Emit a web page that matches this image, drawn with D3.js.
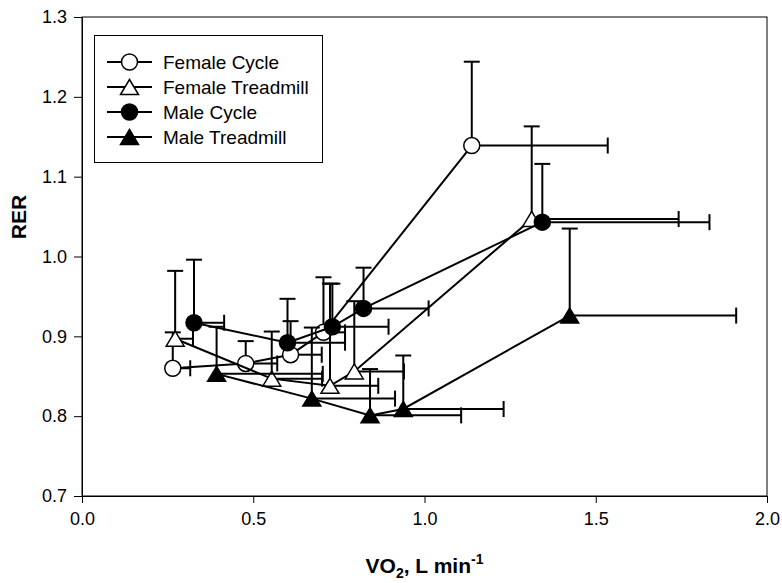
<!DOCTYPE html>
<html>
<head>
<meta charset="utf-8">
<script src="https://cdn.jsdelivr.net/npm/d3@7"></script>
<style>
  html, body { margin: 0; padding: 0; background: #fff; }
  svg { display: block; font-family: Arial, "Liberation Sans", sans-serif; }
</style>
</head>
<body>
<svg id="chart" width="782" height="583"></svg>
<script>
// Mean VO2 (L/min) and RER per stage, with SD bars (drawn upward / rightward)
const seriesNames = ["Female Cycle", "Female Treadmill", "Male Cycle", "Male Treadmill"];
const seriesSymbols = ["circle", "triangle", "circle", "triangle"];
const seriesFilled = [false, false, true, true];

const femaleCycleVO2 = [0.265, 0.478, 0.609, 0.705, 1.138];
const femaleCycleRER = [0.860, 0.866, 0.877, 0.905, 1.139];
const femaleCycleVO2SD = [0.051, 0.092, 0.091, 0.063, 0.397];
const femaleCycleRERSD = [0.045, 0.028, 0.042, 0.069, 0.105];

const femaleTreadVO2 = [0.272, 0.554, 0.724, 0.795, 1.313];
const femaleTreadRER = [0.897, 0.847, 0.838, 0.856, 1.047];
const femaleTreadVO2SD = [0.052, 0.147, 0.141, 0.145, 0.429];
const femaleTreadRERSD = [0.085, 0.059, 0.128, 0.088, 0.116];

const maleCycleVO2 = [0.327, 0.600, 0.731, 0.822, 1.344];
const maleCycleRER = [0.917, 0.892, 0.912, 0.935, 1.043];
const maleCycleVO2SD = [0.088, 0.168, 0.164, 0.190, 0.488];
const maleCycleRERSD = [0.079, 0.055, 0.054, 0.051, 0.073];

const maleTreadVO2 = [0.393, 0.671, 0.841, 0.938, 1.424];
const maleTreadRER = [0.853, 0.822, 0.801, 0.809, 0.926];
const maleTreadVO2SD = [0.310, 0.243, 0.266, 0.293, 0.486];
const maleTreadRERSD = [0.059, 0.089, 0.058, 0.067, 0.109];

const xTicks = [0.0, 0.5, 1.0, 1.5, 2.0];
const yTicks = [0.7, 0.8, 0.9, 1.0, 1.1, 1.2, 1.3];

const seriesData = [
  [femaleCycleVO2, femaleCycleRER, femaleCycleVO2SD, femaleCycleRERSD],
  [femaleTreadVO2, femaleTreadRER, femaleTreadVO2SD, femaleTreadRERSD],
  [maleCycleVO2, maleCycleRER, maleCycleVO2SD, maleCycleRERSD],
  [maleTreadVO2, maleTreadRER, maleTreadVO2SD, maleTreadRERSD]
].map(([xs, ys, xe, ye], i) => ({
  name: seriesNames[i],
  symbol: seriesSymbols[i],
  filled: seriesFilled[i],
  points: xs.map((x, j) => ({ x, y: ys[j], xe: xe[j], ye: ye[j] }))
}));

const svg = d3.select("#chart");
const W = 782, H = 583;
const margin = { left: 82, top: 17, right: 15, bottom: 87 };
const iw = W - margin.left - margin.right;
const ih = H - margin.top - margin.bottom;

const x = d3.scaleLinear().domain([0, 2]).range([margin.left, margin.left + iw]);
const y = d3.scaleLinear().domain([0.7, 1.3]).range([margin.top + ih, margin.top]);

// Frame (top and right edges)
svg.append("rect")
  .attr("x", margin.left).attr("y", margin.top)
  .attr("width", iw).attr("height", ih)
  .attr("fill", "none").attr("stroke", "#000").attr("stroke-width", 1);

// Axes
const xAxis = d3.axisBottom(x).tickValues(xTicks).tickFormat(d3.format(".1f"))
  .tickSizeOuter(0).tickSizeInner(7).tickPadding(9);
const yAxis = d3.axisLeft(y).tickValues(yTicks).tickFormat(d3.format(".1f"))
  .tickSizeOuter(0).tickSizeInner(8).tickPadding(7);

const gx = svg.append("g").attr("transform", `translate(0,${margin.top + ih})`).call(xAxis);
const gy = svg.append("g").attr("transform", `translate(${margin.left},0)`).call(yAxis);
[gx, gy].forEach(g => {
  g.selectAll("path").attr("stroke", "#000").attr("stroke-width", 1);
  g.selectAll("line").attr("stroke", "#000").attr("stroke-width", 1);
  g.selectAll("text").attr("fill", "#000").attr("font-size", 18)
    .attr("font-family", "Arial, 'Liberation Sans', sans-serif");
});

// Axis titles
svg.append("text")
  .attr("transform", `translate(26,217) rotate(-90)`)
  .attr("text-anchor", "middle")
  .attr("font-weight", "bold").attr("font-size", 21)
  .text("RER");

const xt = svg.append("text")
  .attr("x", x(1.0)).attr("y", 573)
  .attr("text-anchor", "middle")
  .attr("font-weight", "bold").attr("font-size", 21);
xt.append("tspan").text("VO");
xt.append("tspan").attr("font-size", 14).attr("dy", 5).text("2");
xt.append("tspan").attr("dy", -5).text(", L min");
xt.append("tspan").attr("font-size", 14).attr("dy", -9).text("-1");

// Marker shapes
const triW = 18, triH = 15;
function drawMarker(g, sym, filled, cx, cy) {
  if (sym === "circle") {
    g.append("circle").attr("cx", cx).attr("cy", cy).attr("r", 8)
      .attr("fill", filled ? "#000" : "#fff").attr("stroke", "#000").attr("stroke-width", 1.5);
  } else {
    const p = d3.path();
    p.moveTo(cx, cy - triH / 2);
    p.lineTo(cx + triW / 2, cy + triH / 2);
    p.lineTo(cx - triW / 2, cy + triH / 2);
    p.closePath();
    g.append("path").attr("d", p.toString())
      .attr("fill", filled ? "#000" : "#fff").attr("stroke", "#000").attr("stroke-width", 1.5)
      .attr("stroke-linejoin", "miter");
  }
}

const line = d3.line().x(d => x(d.x)).y(d => y(d.y));
const cap = 8;

seriesData.forEach(s => {
  const g = svg.append("g");
  // error bars (upper and right halves)
  s.points.forEach(d => {
    const cx = x(d.x), cy = y(d.y);
    const ty = y(d.y + d.ye), rx = x(d.x + d.xe);
    g.append("line").attr("x1", cx).attr("x2", cx).attr("y1", cy).attr("y2", ty)
      .attr("stroke", "#000").attr("stroke-width", 2);
    g.append("line").attr("x1", cx - cap).attr("x2", cx + cap).attr("y1", ty).attr("y2", ty)
      .attr("stroke", "#000").attr("stroke-width", 2);
    g.append("line").attr("x1", cx).attr("x2", rx).attr("y1", cy).attr("y2", cy)
      .attr("stroke", "#000").attr("stroke-width", 2);
    g.append("line").attr("x1", rx).attr("x2", rx).attr("y1", cy - cap).attr("y2", cy + cap)
      .attr("stroke", "#000").attr("stroke-width", 2);
  });
  g.append("path").datum(s.points).attr("d", line)
    .attr("fill", "none").attr("stroke", "#000").attr("stroke-width", 2);
  s.points.forEach(d => drawMarker(g, s.symbol, s.filled, x(d.x), y(d.y)));
});

// Legend
const lg = svg.append("g");
lg.append("rect").attr("x", 94.5).attr("y", 35.5).attr("width", 228).attr("height", 127)
  .attr("fill", "#fff").attr("stroke", "#000").attr("stroke-width", 1);
seriesData.forEach((s, i) => {
  const ly = 62 + i * 25;
  lg.append("line").attr("x1", 107).attr("x2", 152).attr("y1", ly).attr("y2", ly)
    .attr("stroke", "#000").attr("stroke-width", 2);
  drawMarker(lg, s.symbol, s.filled, 129.5, ly);
  lg.append("text").attr("x", 163).attr("y", ly).attr("dy", "0.35em")
    .attr("font-size", 19).text(s.name);
});
</script>
</body>
</html>
